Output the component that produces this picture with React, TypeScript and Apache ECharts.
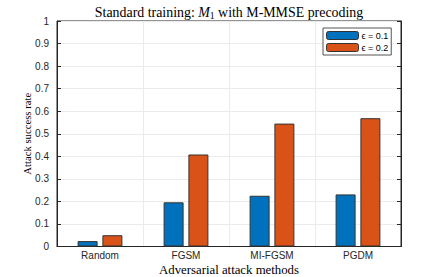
import React, { useEffect, useRef } from "react";
import * as echarts from "echarts";

const categories = ["Random", "FGSM", "MI-FGSM", "PGDM"];
const eps01 = [0.024, 0.196, 0.225, 0.231];
const eps02 = [0.05, 0.408, 0.545, 0.569];
const seriesNames = ["ϵ = 0.1", "ϵ = 0.2"];
const yTicks = [0, 0.1, 0.2, 0.3, 0.4, 0.5, 0.6, 0.7, 0.8, 0.9, 1];
const titleText = "Standard training: M1 with M-MMSE precoding";
const xName = "Adversarial attack methods";
const yName = "Attack success rate";

function fitSize(text: string, family: string, target: number): number {
  const c = document.createElement("canvas").getContext("2d")!;
  c.font = `100px "${family}"`;
  const w = c.measureText(text).width;
  return Math.round((100 * target / w) * 10) / 10;
}

export default function App() {
  const ref = useRef<HTMLDivElement>(null);
  useEffect(() => {
    const chart = echarts.init(ref.current!, null, { renderer: "svg" });
    const axisColor = "#262626";
    const serif = "Liberation Serif";
    const titleSize = fitSize(titleText, serif, 272);
    const xNameSize = Math.min(12.8, fitSize(xName, serif, 152));
    const yNameSize = fitSize(yName, serif, 82);
    const tickFont = { fontFamily: "Liberation Sans", fontSize: 10, color: axisColor };
    chart.setOption({
      animation: false,
      backgroundColor: "#ffffff",
      title: {
        text: "Standard training: {it|M}{sub|1} with M-MMSE precoding",
        left: 229,
        textAlign: "center",
        top: 4,
        padding: 0,
        textStyle: {
          fontFamily: serif,
          fontSize: titleSize,
          fontWeight: "normal",
          color: "#000",
          rich: {
            it: { fontFamily: serif, fontStyle: "italic", fontSize: titleSize, color: "#000" },
            sub: { fontFamily: serif, fontSize: titleSize * 0.7, color: "#000", verticalAlign: "bottom", padding: [6, 0, 0, 0] },
          },
        },
      },
      grid: {
        left: 57,
        right: 42,
        top: 21,
        bottom: 30.5,
        show: true,
        borderColor: axisColor,
        borderWidth: 1,
        backgroundColor: "#fff",
        outerBoundsMode: "none",
        containLabel: false,
      },
      legend: {
        data: seriesNames,
        orient: "vertical",
        left: 323,
        top: 28,
        itemWidth: 32,
        itemHeight: 8,
        itemGap: 3,
        padding: [3, 3, 3, 3],
        backgroundColor: "#fff",
        borderColor: "#555",
        borderWidth: 1,
        textStyle: { fontFamily: "Liberation Sans", fontSize: 9, color: "#000", padding: [0, 0, 0, -2] },
        itemStyle: { borderColor: "#333", borderWidth: 1 },
      },
      xAxis: {
        type: "category",
        data: categories,
        name: xName,
        nameLocation: "middle",
        nameGap: 17,
        nameMoveOverlap: false,
        nameTextStyle: { fontFamily: serif, fontSize: xNameSize, color: "#000" },
        axisLine: { show: true, lineStyle: { color: axisColor } },
        axisTick: { show: false },
        axisLabel: { ...tickFont, margin: 4 },
        splitLine: { show: true, interval: 0, lineStyle: { color: "#ebebeb", width: 1 } },
      },
      yAxis: [
        {
          type: "value",
          min: 0,
          max: 1,
          interval: 0.1,
          name: yName,
          nameLocation: "middle",
          nameGap: 25,
          nameMoveOverlap: false,
          nameTextStyle: { fontFamily: serif, fontSize: yNameSize, color: "#000" },
          axisLine: { show: true, lineStyle: { color: axisColor } },
          axisTick: { show: true, inside: true, length: 4, lineStyle: { color: axisColor } },
          axisLabel: {
            ...tickFont,
            margin: 8,
            formatter: (v: number) => {
              const t = yTicks.find((x) => Math.abs(x - v) < 1e-9);
              return t === undefined ? "" : String(t);
            },
          },
          splitLine: { show: true, lineStyle: { color: "#ebebeb", width: 1 } },
        },
        {
          type: "value",
          min: 0,
          max: 1,
          interval: 0.1,
          position: "right",
          axisLine: { show: true, lineStyle: { color: axisColor } },
          axisTick: { show: true, inside: true, length: 4, lineStyle: { color: axisColor } },
          axisLabel: { show: false },
          splitLine: { show: false },
        },
      ],
      series: [
        {
          name: seriesNames[0],
          type: "bar",
          data: eps01,
          barWidth: 20,
          barGap: "24%",
          itemStyle: { color: "#0072BD", borderColor: "#333", borderWidth: 1 },
        },
        {
          name: seriesNames[1],
          type: "bar",
          data: eps02,
          barWidth: 20,
          itemStyle: { color: "#D95319", borderColor: "#333", borderWidth: 1 },
        },
      ],
    });
    return () => chart.dispose();
  }, []);
  return <div ref={ref} style={{ width: 443, height: 277, position: "absolute", left: 0, top: 0 }} />;
}
